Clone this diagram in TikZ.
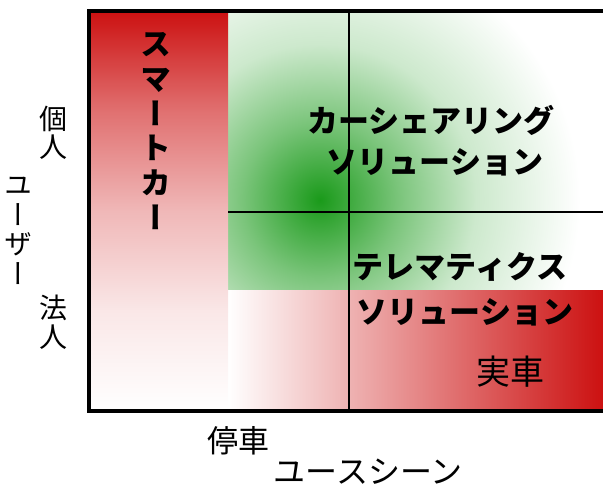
\documentclass[tikz,border=0pt]{standalone}
\usepackage{fontspec}
\setmainfont{Noto Sans CJK JP}
\newfontfamily\jpv[RawFeature=+vert]{Noto Sans CJK JP}
\definecolor{mred}{RGB}{204,17,17}
\definecolor{mgreen}{RGB}{26,154,26}
\colorlet{gA}{mgreen!58!white}
\colorlet{gB}{mgreen!22!white}
\colorlet{rA}{mred!60!white}
\colorlet{rB}{mred!30!white}
\colorlet{rC}{mred!10!white}
\pgfdeclareradialshading{greenglow}{\pgfpoint{0bp}{0bp}}{color(0bp)=(mgreen); color(7.5bp)=(gA); color(15bp)=(gB); color(25bp)=(white); color(50bp)=(white)}
\pgfdeclareverticalshading{redfade}{100bp}{color(0bp)=(white); color(25bp)=(white); color(37.5bp)=(rC); color(50bp)=(rB); color(62.5bp)=(rA); color(75bp)=(mred); color(100bp)=(mred)}
\tikzset{
  biglabel/.style={inner sep=0pt, font=\bfseries\fontsize{31}{34}\selectfont},
  plainlabel/.style={inner sep=0pt, font=\fontsize{31}{34}\selectfont},
  sidelabel/.style={inner sep=0pt, align=center, font=\jpv\fontsize{28}{28.5}\selectfont},
  frameline/.style={line width=4pt, line cap=rect},
  gridline/.style={line width=2pt}
}
\begin{document}
\begin{tikzpicture}[x=1pt,y=-1pt]
\useasboundingbox (0,0) rectangle (603,487);
% green glow region
\begin{scope}
  \clip (228,11) rectangle (603,290);
  \shade[shading=greenglow] (320,200) circle (260);
\end{scope}
% red horizontal band
\shade[left color=white, right color=mred] (228,290) rectangle (603,411);
% red vertical box
\shade[shading=redfade] (89,11) rectangle (228,411);
% coordinates
\coordinate (tl) at (89,11);
\coordinate (tr) at (603,11);
\coordinate (bl) at (89,411);
\coordinate (br) at (603,411);
\coordinate (vt) at (349,11);
\coordinate (vb) at (349,411);
\coordinate (hl) at (228,212);
\coordinate (hr) at (603,212);
\draw[gridline] (vt) -- (vb);
\draw[gridline] (hl) -- (hr);
\draw[frameline] (tr) -- (tl) -- (bl) -- (br);
% texts
\node[biglabel, align=center, font=\jpv\bfseries\fontsize{31}{34.75}\selectfont] (smart) at (156,131) {ス\\マ\\ー\\ト\\カ\\ー};
\node[biglabel] (cs1) at (431,120) {カーシェアリング};
\node[biglabel] (cs2) at (435,162) {ソリューション};
\node[biglabel] (tm1) at (460,267) {テレマティクス};
\node[biglabel] (tm2) at (465,312) {ソリューション};
\node[plainlabel, font=\fontsize{34}{36}\selectfont] (real) at (510,372) {実車};
\node[plainlabel] (stop) at (238,441) {停車};
\node[plainlabel, font=\fontsize{32}{36}\selectfont] (scene) at (368,472) {ユースシーン};
\node[sidelabel] (kojin) at (53,133) {個\\人};
\node[sidelabel, font=\jpv\fontsize{28}{29.5}\selectfont] (user) at (19,231) {ユ\\ー\\ザ\\ー};
\node[sidelabel] (hojin) at (53,322) {法\\人};
\end{tikzpicture}
\end{document}
